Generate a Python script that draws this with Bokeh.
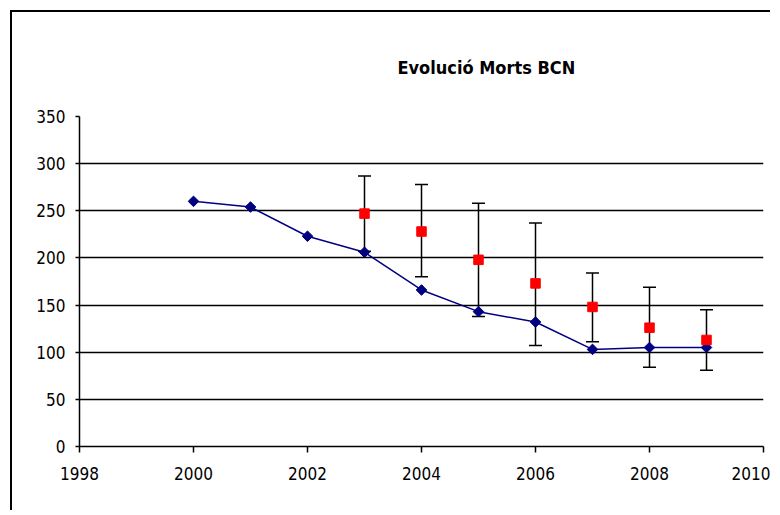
import math
from bokeh.plotting import figure
from bokeh.models import ColumnDataSource, Whisker, TeeHead, FixedTicker, Range1d
from bokeh.embed import file_html
from bokeh.resources import INLINE

# ---- data ----
years_obs = [2000, 2001, 2002, 2003, 2004, 2005, 2006, 2007, 2008, 2009]
deaths_obs = [260, 254, 223, 206, 166, 143, 132, 103, 105, 105]

years_est = [2003, 2004, 2005, 2006, 2007, 2008, 2009]
deaths_est = [247, 228, 198, 173, 148, 126, 113]
err_upper = [287, 278, 258, 237, 184, 169, 145]
err_lower = [207, 180, 138, 107, 111, 84, 81]

x_ticks = [1998, 2000, 2002, 2004, 2006, 2008, 2010]
y_ticks = [0, 50, 100, 150, 200, 250, 300, 350]
title_text = "Evolució Morts BCN"

FONT = "'DejaVu Sans Condensed', 'Liberation Sans Narrow', sans-serif"

p = figure(width=760, height=500, output_backend="svg", toolbar_location=None,
           x_range=Range1d(1998, 2010), y_range=Range1d(0, 350),
           min_border_left=67, min_border_top=104, min_border_right=9, min_border_bottom=66,
           title=title_text)
p.styles = {"margin-left": "10px", "margin-top": "10px",
            "border-left": "2px solid black", "border-top": "2px solid black"}
p.outline_line_color = None
p.background_fill_color = "white"
p.border_fill_color = "white"

p.title.align = "left"
p.title.offset = 318
p.title.standoff = 78
p.title.text_font = FONT
p.title.text_font_size = "18px"
p.title.text_font_style = "bold"
p.title.text_color = "black"

# grid
p.xgrid.grid_line_color = None
p.ygrid.grid_line_color = "black"
p.ygrid.grid_line_width = 1.5
p.ygrid.ticker = FixedTicker(ticks=y_ticks)

# axes
for ax in (p.xaxis[0], p.yaxis[0]):
    ax.axis_line_color = "black"
    ax.axis_line_width = 1.5
    ax.major_tick_line_color = "black"
    ax.major_tick_line_width = 1.5
    ax.minor_tick_line_color = None
    ax.major_tick_in = 0
    ax.major_label_text_font = FONT
    ax.major_label_text_font_size = "17px"
    ax.major_label_text_color = "black"
p.xaxis[0].ticker = FixedTicker(ticks=x_ticks)
p.yaxis[0].ticker = FixedTicker(ticks=y_ticks)
p.xaxis[0].major_tick_out = 6
p.yaxis[0].major_tick_out = 4
p.xaxis[0].major_label_standoff = 14
p.yaxis[0].major_label_standoff = 10

# error bars
src_est = ColumnDataSource(dict(x=years_est, y=deaths_est, lo=err_lower, hi=err_upper))
wh = Whisker(source=src_est, base="x", lower="lo", upper="hi",
             line_color="black", line_width=1.5,
             upper_head=TeeHead(size=13, line_color="black", line_width=1.5),
             lower_head=TeeHead(size=13, line_color="black", line_width=1.5))
p.add_layout(wh)

# observed series
src_obs = ColumnDataSource(dict(x=years_obs, y=deaths_obs))
p.line("x", "y", source=src_obs, line_color="#000080", line_width=1.5)
p.scatter("x", "y", source=src_obs, marker="square", size=7.5, angle=math.pi / 4,
          fill_color="#000080", line_color="#000080")

# estimated series
p.scatter("x", "y", source=src_est, marker="square", size=9.5,
          fill_color="#FF0000", line_color="#FF0000")

open("out.html", "w").write(file_html(p, INLINE))
